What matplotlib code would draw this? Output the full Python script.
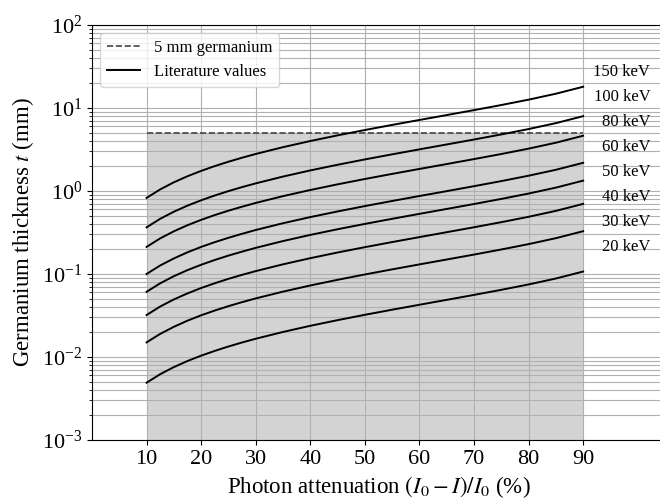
import matplotlib
matplotlib.use("Agg")
import matplotlib.pyplot as plt

plt.rcParams['font.family'] = 'serif'
plt.rcParams['font.serif'] = ['Liberation Serif', 'DejaVu Serif']
plt.rcParams['mathtext.fontset'] = 'stix'

# photon attenuation (%) and germanium thickness (mm)
attenuation = [10, 12.5, 15, 17.5, 20, 22.5, 25, 27.5, 30, 35, 40, 45, 50, 55, 60, 65, 70, 75, 80, 85, 90]

energies = ['150 keV', '100 keV', '80 keV', '60 keV', '50 keV', '40 keV', '30 keV', '20 keV']

t_150 = [0.825, 1.046, 1.273, 1.506, 1.747, 1.996, 2.253, 2.518, 2.793, 3.373, 4.000, 4.681, 5.428, 6.253, 7.175, 8.220, 9.427, 10.86, 12.60, 14.86, 18.03]
t_100 = [0.365, 0.4626, 0.563, 0.6665, 0.773, 0.883, 0.997, 1.114, 1.236, 1.492, 1.770, 2.071, 2.401, 2.766, 3.174, 3.637, 4.171, 4.803, 5.576, 6.572, 7.977]
t_80 = [0.212, 0.2687, 0.327, 0.3871, 0.449, 0.513, 0.579, 0.647, 0.718, 0.867, 1.028, 1.203, 1.395, 1.607, 1.844, 2.112, 2.423, 2.790, 3.239, 3.817, 4.633]
t_60 = [0.100, 0.1267, 0.154, 0.1826, 0.212, 0.242, 0.273, 0.305, 0.339, 0.409, 0.485, 0.567, 0.658, 0.758, 0.870, 0.996, 1.143, 1.316, 1.528, 1.801, 2.186]
t_50 = [0.0610, 0.0773, 0.0941, 0.1114, 0.1292, 0.1476, 0.1666, 0.186, 0.2065, 0.2494, 0.2958, 0.3461, 0.4013, 0.4623, 0.5305, 0.6078, 0.6970, 0.8026, 0.9318, 1.098, 1.333]
t_40 = [0.0320, 0.0406, 0.0494, 0.0584, 0.0678, 0.0774, 0.0874, 0.0977, 0.1083, 0.1308, 0.1551, 0.1816, 0.2105, 0.2425, 0.2783, 0.3189, 0.3657, 0.4211, 0.4888, 0.5762, 0.6994]
t_30 = [0.0150, 0.0190, 0.0231, 0.0274, 0.0318, 0.0363, 0.0410, 0.0458, 0.0508, 0.0613, 0.0727, 0.0851, 0.0987, 0.1137, 0.1305, 0.1495, 0.1714, 0.1974, 0.2291, 0.2701, 0.3278]
t_20 = [0.00490, 0.00621, 0.00756, 0.00895, 0.01038, 0.01185, 0.01338, 0.01496, 0.01659, 0.02003, 0.02376, 0.02780, 0.03224, 0.03714, 0.04261, 0.04882, 0.05599, 0.06447, 0.07485, 0.08823, 0.1071]

curves = [t_150, t_100, t_80, t_60, t_50, t_40, t_30, t_20]

detector_mm = 5
x_ticks = [10, 20, 30, 40, 50, 60, 70, 80, 90]

fig = plt.figure(figsize=(6.6, 5), dpi=100)
ax = fig.add_axes([92 / 660, 0.12, 573 / 660, 0.83])

# shaded region below the detector thickness
ax.fill_between([attenuation[0], attenuation[-1]], 1e-3, detector_mm,
                color='#d3d3d3', lw=0, zorder=0)
ax.plot([attenuation[0], attenuation[-1]], [detector_mm, detector_mm],
        ls='--', color='#444444', lw=1.2, label='5 mm germanium')

for i, t in enumerate(curves):
    ax.plot(attenuation, t, color='black', lw=1.4,
            label='Literature values' if i == 0 else None)

# energy labels stacked at the right
for i, name in enumerate(energies):
    ax.text(102.3, 27.2 / 2 ** i, name, ha='right', va='center', fontsize=12)

ax.set_yscale('log')
ax.set_ylim(1e-3, 1e2)
ax.set_xlim(0, 105)
ax.set_xticks(x_ticks)
ax.grid(True, which='major', axis='x', color='#b0b0b0', lw=0.8)
ax.grid(True, which='both', axis='y', color='#b0b0b0', lw=0.8)
ax.tick_params(labelsize=16)
ax.spines['right'].set_visible(False)

ax.set_xlabel(r'Photon attenuation $(I_0 - I)/I_0$ (%)', fontsize=16.5)
ax.set_ylabel(r'Germanium thickness $t$ (mm)', fontsize=16.5)
ax.legend(loc='upper left', fontsize=12)

fig.savefig('out.png', dpi=100)
